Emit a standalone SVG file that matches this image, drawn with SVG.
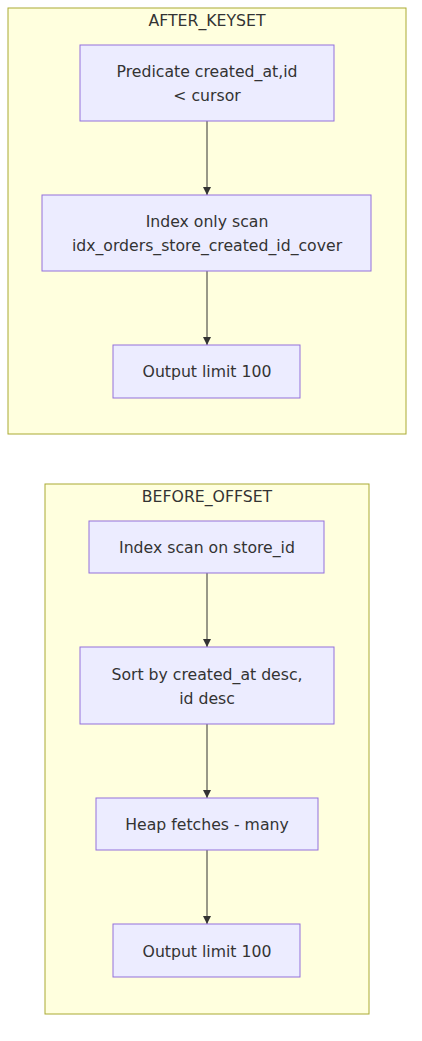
<svg xmlns="http://www.w3.org/2000/svg" width="422" height="1041" viewBox="0 0 422 1041">
<style>
.cluster{fill:#ffffde;stroke:#aaaa33;stroke-width:1}
.node{fill:#ECECFF;stroke:#9370DB;stroke-width:1}
text{font-family:"DejaVu Sans",sans-serif;font-size:15.7px;fill:#333333;text-anchor:middle;dominant-baseline:central}
.edge{stroke:#333333;stroke-width:1;fill:none;marker-end:url(#arrow)}
</style>
<defs>
<marker id="arrow" viewBox="0 0 10 10" refX="10" refY="5" markerWidth="8" markerHeight="8" markerUnits="userSpaceOnUse" orient="auto">
<path d="M0,0 L10,5 L0,10 z" fill="#333333"/>
</marker>
</defs>
<rect width="422" height="1041" fill="#ffffff"/>
<g id="cluster-after">
<rect class="cluster" x="8" y="8" width="398" height="426"/>
<text x="207" y="20">AFTER_KEYSET</text>
</g>
<g id="cluster-before">
<rect class="cluster" x="45" y="484" width="324" height="530"/>
<text x="207" y="496">BEFORE_OFFSET</text>
</g>
<g id="connectors">
<path class="edge" d="M207,121 L207,195"/>
<path class="edge" d="M207,271 L207,345"/>
<path class="edge" d="M207,573 L207,647"/>
<path class="edge" d="M207,724 L207,798"/>
<path class="edge" d="M207,850 L207,924"/>
</g>
<g id="a1">
<rect class="node" x="80" y="45" width="254" height="76"/>
<text x="207" y="71">Predicate created_at,id</text>
<text x="207" y="95">&lt; cursor</text>
</g>
<g id="a2">
<rect class="node" x="42" y="195" width="329" height="76"/>
<text x="207" y="221">Index only scan</text>
<text x="207" y="245">idx_orders_store_created_id_cover</text>
</g>
<g id="a3">
<rect class="node" x="113" y="345" width="187" height="53"/>
<text x="207" y="371">Output limit 100</text>
</g>
<g id="b1">
<rect class="node" x="89" y="521" width="235" height="52"/>
<text x="207" y="547">Index scan on store_id</text>
</g>
<g id="b2">
<rect class="node" x="80" y="647" width="254" height="77"/>
<text x="207" y="674">Sort by created_at desc,</text>
<text x="207" y="698">id desc</text>
</g>
<g id="b3">
<rect class="node" x="96" y="798" width="222" height="52"/>
<text x="207" y="824">Heap fetches - many</text>
</g>
<g id="b4">
<rect class="node" x="113" y="924" width="187" height="53"/>
<text x="207" y="951">Output limit 100</text>
</g>
</svg>
